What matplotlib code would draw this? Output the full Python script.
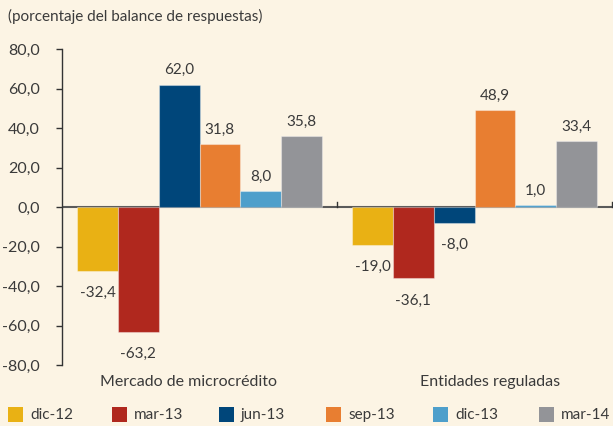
import matplotlib
matplotlib.use("Agg")
import matplotlib.pyplot as plt
import numpy as np
from matplotlib.patches import Rectangle

categories = ["Mercado de microcrédito", "Entidades reguladas"]
series_names = ["dic-12", "mar-13", "jun-13", "sep-13", "dic-13", "mar-14"]
values = {
    "dic-12": [-32.4, -19.0],
    "mar-13": [-63.2, -36.1],
    "jun-13": [62.0, -8.0],
    "sep-13": [31.8, 48.9],
    "dic-13": [8.0, 1.0],
    "mar-14": [35.8, 33.4],
}
colors = ["#E9B114", "#B0281E", "#00467A", "#E87E31", "#4E9FCB", "#939498"]
yticks = [-80, -60, -40, -20, 0, 20, 40, 60, 80]

bg = "#FCF4E4"
txt = "#3a3a3a"
plt.rcParams['font.family'] = ['Lato', 'DejaVu Sans']

W, H = 613, 426
fig = plt.figure(figsize=(6.13, 4.26), dpi=100, facecolor=bg)
ax = fig.add_axes([62/W, 1-365/H, 550/W, (365-49)/H])
ax.set_facecolor(bg)

n = len(series_names)
bw = 0.89 / n
x = np.arange(len(categories))
for i, name in enumerate(series_names):
    pos = x - 0.445 + bw * (i + 0.5)
    ax.bar(pos, values[name], width=bw, color=colors[i],
           edgecolor=(1, 1, 1, 0.35), linewidth=0.8, zorder=2)
    for xp, v in zip(pos, values[name]):
        lbl = f"{v:.1f}".replace(".", ",")
        if v >= 0:
            ax.text(xp, v + 7.3, lbl, ha="center", va="center", fontsize=11, color=txt)
        else:
            ax.text(xp, v - 11.3, lbl, ha="center", va="center", fontsize=11, color=txt)

ax.set_xlim(-0.5, 1.5)
ax.set_ylim(-80, 80)
ax.set_yticks(yticks)
ax.set_yticklabels([f"{t:.1f}".replace(".", ",") for t in yticks], fontsize=11.5, color=txt)
ax.tick_params(axis="y", length=4, width=1, color="#333333", direction="out", pad=12)

for s in ["top", "right", "bottom"]:
    ax.spines[s].set_visible(False)
ax.spines["left"].set_color("#333333")
ax.spines["left"].set_linewidth(1.0)
ax.axhline(0, color="#5a5a5a", linewidth=1.5, zorder=1.5)

ax.set_xticks([])
for b in [0.5, 1.5]:
    ax.plot([b, b], [0, 2.5], color="#333333", linewidth=1.0, clip_on=False, zorder=3)
cat_offsets = [-0.04, 0.055]
for xi, c, off in zip(x, categories, cat_offsets):
    ax.text(xi + off, -85, c, ha="center", va="top", fontsize=11.5, color=txt, clip_on=False)

fig.text(8/W, 1-16/H, "(porcentaje del balance de respuestas)", ha="left", va="center",
         fontsize=11, color=txt)

# legend drawn in figure pixel coordinates
leg_x = [8, 112, 219, 326, 433, 539]
for lx, c, name in zip(leg_x, colors, series_names):
    fig.patches.append(Rectangle((lx/W, 1-422/H), 15/W, 15/H, transform=fig.transFigure,
                                 facecolor=c, edgecolor="none"))
    fig.text((lx+22)/W, 1-415/H, name, ha="left", va="center", fontsize=11, color=txt)

fig.savefig("out.png", dpi=100, facecolor=bg)
